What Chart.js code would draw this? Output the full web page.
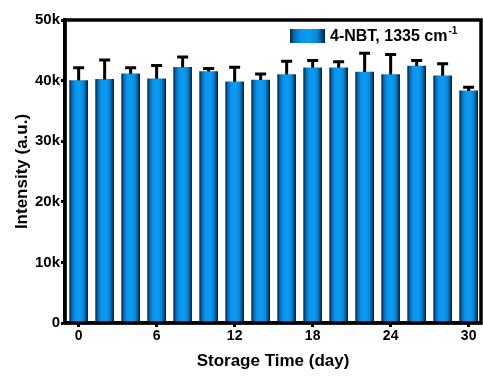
<!DOCTYPE html>
<html>
<head>
<meta charset="utf-8">
<script src="https://cdn.jsdelivr.net/npm/chart.js@4"></script>
<style>
  html, body { margin: 0; padding: 0; background: #fff; }
  #wrap { width: 483px; height: 376px; position: relative; }
</style>
</head>
<body>
<div id="wrap"><canvas id="chart"></canvas></div>
<script>
const days = [0, 2, 4, 6, 8, 10, 12, 14, 16, 18, 20, 22, 24, 26, 28, 30];
const intensity = [40000, 40200, 41100, 40300, 42200, 41500, 39800, 40100,
                   41000, 42100, 42100, 41400, 41000, 42400, 40800, 38300];
const errorUp = [2100, 3200, 1000, 2200, 1700, 500, 2400, 1000,
                 2200, 1200, 1000, 3100, 3300, 900, 2000, 600];
const xTickValues = [0, 6, 12, 18, 24, 30];
const yTickValues = [0, 10000, 20000, 30000, 40000, 50000];
const seriesLabel = '4-NBT, 1335 cm';
const seriesSup = '-1';

const FONT = 'Arial, "Liberation Sans", Helvetica, sans-serif';

function barGradient(ctx, x0, x1) {
  const g = ctx.createLinearGradient(x0, 0, x1, 0);
  g.addColorStop(0, '#0a2440');
  g.addColorStop(0.12, '#0a6ab2');
  g.addColorStop(0.3, '#0a94ec');
  g.addColorStop(0.55, '#0c9cf4');
  g.addColorStop(0.78, '#0a84d4');
  g.addColorStop(0.92, '#064a80');
  g.addColorStop(1, '#081c30');
  return g;
}

const errorBars = {
  id: 'errorBars',
  afterDatasetsDraw(chart) {
    const { ctx, scales: { x, y } } = chart;
    ctx.save();
    ctx.strokeStyle = '#000';
    ctx.lineWidth = 3;
    ctx.lineCap = 'butt';
    days.forEach((d, i) => {
      const px = x.getPixelForValue(d);
      const top = y.getPixelForValue(intensity[i]);
      const end = y.getPixelForValue(intensity[i] + errorUp[i]);
      ctx.beginPath();
      ctx.moveTo(px, top);
      ctx.lineTo(px, end);
      ctx.moveTo(px - 5.5, end);
      ctx.lineTo(px + 5.5, end);
      ctx.stroke();
    });
    ctx.restore();
  }
};

const frame = {
  id: 'frame',
  afterDraw(chart) {
    const { ctx, chartArea: a } = chart;
    ctx.save();
    ctx.strokeStyle = '#000';
    ctx.lineWidth = 3.5;
    ctx.strokeRect(a.left, a.top, a.right - a.left, a.bottom - a.top);

    // legend
    const bx = 290, by = 29, bw = 35, bh = 14;
    ctx.fillStyle = barGradient(ctx, bx, bx + bw);
    ctx.fillRect(bx, by, bw, bh);
    ctx.fillStyle = '#000';
    ctx.textBaseline = 'middle';
    ctx.font = 'bold 16px ' + FONT;
    ctx.fillText(seriesLabel, 330, 37);
    const w = ctx.measureText(seriesLabel).width;
    ctx.font = 'bold 10px ' + FONT;
    ctx.fillText(seriesSup, 330 + w + 1, 31);
    ctx.restore();
  }
};

new Chart(document.getElementById('chart'), {
  type: 'bar',
  data: {
    datasets: [{
      label: seriesLabel + seriesSup,
      data: days.map((d, i) => ({ x: d, y: intensity[i] })),
      barThickness: 18,
      borderWidth: 0,
      backgroundColor(context) {
        const chart = context.chart;
        if (!chart.chartArea || context.raw == null) return '#0a96ee';
        const px = chart.scales.x.getPixelForValue(context.raw.x);
        return barGradient(chart.ctx, px - 9, px + 9);
      },
    }],
  },
  options: {
    responsive: true,
    maintainAspectRatio: false,
    animation: false,
    layout: { padding: { left: 0, right: 2, top: 20, bottom: 0 } },
    plugins: {
      legend: { display: false },
      tooltip: { enabled: false },
    },
    scales: {
      x: {
        type: 'linear',
        min: -1.05,
        max: 30.95,
        offset: false,
        afterBuildTicks(scale) {
          scale.ticks = xTickValues.map((v) => ({ value: v }));
        },
        afterFit(scale) { scale.height = 53; },
        ticks: {
          color: '#000',
          font: { family: FONT, size: 14, weight: 'bold' },
          padding: 1,
          maxRotation: 0,
          autoSkip: false,
        },
        grid: {
          display: true,
          drawOnChartArea: false,
          drawTicks: true,
          tickLength: 4,
          tickWidth: 3,
          color: '#000',
          offset: false,
        },
        border: { display: true, width: 3.5, color: '#000' },
        title: {
          display: true,
          text: 'Storage Time (day)',
          color: '#000',
          font: { family: FONT, size: 17, weight: 'bold' },
          padding: { top: 0, bottom: 4 },
        },
      },
      y: {
        min: 0,
        max: 50000,
        afterBuildTicks(scale) {
          scale.ticks = yTickValues.map((v) => ({ value: v }));
        },
        afterFit(scale) { scale.width = 65; },
        ticks: {
          color: '#000',
          font: { family: FONT, size: 15, weight: 'bold' },
          padding: 1,
          callback: (v) => (v === 0 ? '0' : v / 1000 + 'k'),
        },
        grid: {
          display: true,
          drawOnChartArea: false,
          drawTicks: true,
          tickLength: 4,
          tickWidth: 3,
          color: '#000',
        },
        border: { display: true, width: 3.5, color: '#000' },
        title: {
          display: true,
          text: 'Intensity (a.u.)',
          color: '#000',
          font: { family: FONT, size: 17, weight: 'bold' },
          padding: { top: 12, bottom: 0 },
        },
      },
    },
  },
  plugins: [errorBars, frame],
});
</script>
</body>
</html>
